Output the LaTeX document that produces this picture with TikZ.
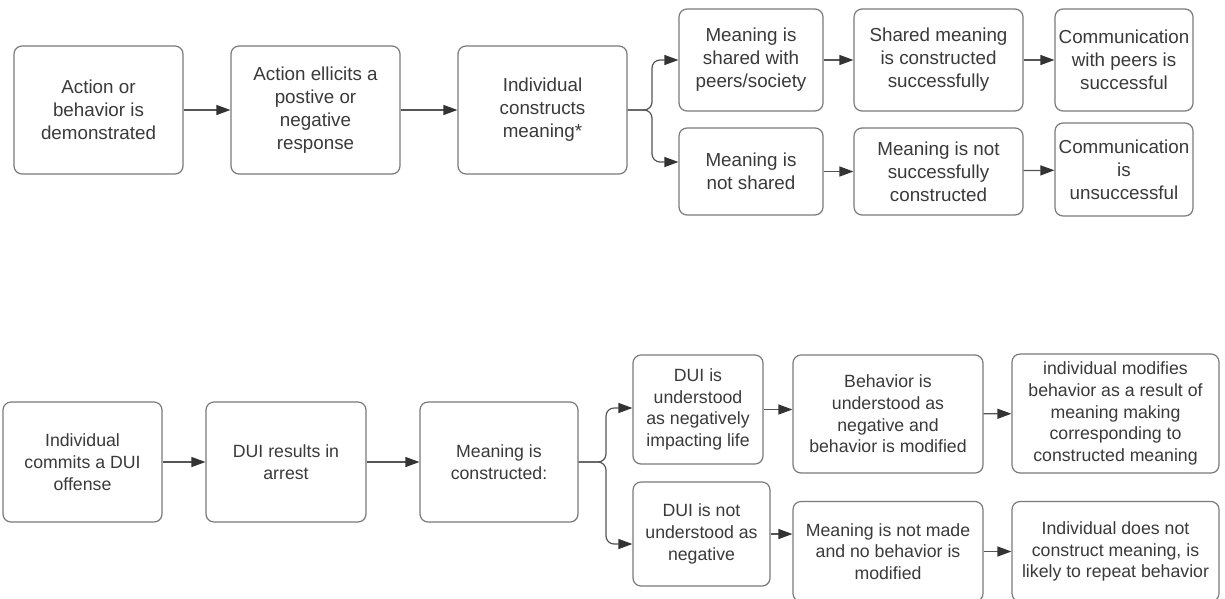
\documentclass[tikz,border=0pt]{standalone}
\usepackage{fontspec}
\setmainfont{Liberation Sans}
\usetikzlibrary{arrows.meta}
\definecolor{bordergray}{HTML}{7A7A7A}
\definecolor{textgray}{HTML}{3A3A3A}
\definecolor{linegray}{HTML}{555555}
\definecolor{tipgray}{HTML}{333333}
\begin{document}
\begin{tikzpicture}[x=1pt,y=-1pt,
  box/.style={draw=bordergray, line width=1.2pt, rounded corners=8pt, fill=white,
    align=center, text=textgray, inner sep=0pt,
    font=\fontsize{18.8}{23}\selectfont},
  boxb/.style={box, font=\fontsize{17.7}{21.7}\selectfont},
  arr/.style={draw=linegray, line width=1.2pt, -{Triangle[length=14pt,width=10pt,color=tipgray]}},
  br/.style={arr, rounded corners=8pt}]
\useasboundingbox (0,0) rectangle (1225,598);
\fill[white] (0,0) rectangle (1225,598);
% top row
\node[box, minimum width=169pt, minimum height=128pt] (A) at (98.5,110) {Action or\\behavior is\\demonstrated};
\node[box, minimum width=169pt, minimum height=128pt] (B) at (315.5,110) {Action ellicits a\\postive or\\negative\\response};
\node[box, minimum width=169pt, minimum height=128pt] (C) at (542.5,110) {Individual\\constructs\\meaning*};
\node[box, minimum width=144pt, minimum height=102pt] (D1) at (751,60) {Meaning is\\shared with\\peers/society};
\node[box, minimum width=169pt, minimum height=102pt] (E1) at (938.5,60) {Shared meaning\\is constructed\\successfully};
\node[box, minimum width=138pt, minimum height=102pt] (F1) at (1124,60) {Communication\\with peers is\\successful};
\node[box, minimum width=144pt, minimum height=87pt] (D2) at (751,171.5) {Meaning is\\not shared};
\node[box, minimum width=169pt, minimum height=87pt] (E2) at (938.5,171.5) {Meaning is not\\successfully\\constructed};
\node[box, minimum width=138pt, minimum height=93pt] (F2) at (1124,169.5) {Communication\\is\\unsuccessful};
\coordinate (brT) at (652,110);
\draw[arr] (A) -- (B);
\draw[arr] (B) -- (C);
\draw[br] (C.east) -- (brT) |- (D1.west);
\draw[br] (C.east) -- (brT) |- ([yshift=9.5pt]D2.west);
\draw[arr] (D1) -- (E1);
\draw[arr] (E1) -- (F1);
\draw[arr] (D2) -- (E2);
\draw[arr] (E2) -- (F2);
% bottom row
\node[boxb, minimum width=159pt, minimum height=120pt] (G) at (82.5,462) {Individual\\commits a DUI\\offense};
\node[boxb, minimum width=160pt, minimum height=120pt] (H) at (286,462) {DUI results in\\arrest};
\node[boxb, minimum width=158pt, minimum height=120pt] (I) at (499,462) {Meaning is\\constructed:};
\node[boxb, minimum width=130pt, minimum height=109pt] (J1) at (698,409.5) {DUI is\\understood\\as negatively\\impacting life};
\node[boxb, minimum width=190pt, minimum height=118pt] (K1) at (888,414) {Behavior is\\understood as\\negative and\\behavior is modified};
\node[boxb, minimum width=207pt, minimum height=119pt] (L1) at (1115.5,413.5) {individual modifies\\behavior as a result of\\meaning making\\corresponding to\\constructed meaning};
\node[boxb, minimum width=137pt, minimum height=104pt] (J2) at (701.5,534) {DUI is not\\understood as\\negative};
\node[boxb, minimum width=190pt, minimum height=100pt] (K2) at (888,551.5) {Meaning is not made\\and no behavior is\\modified};
\node[boxb, minimum width=207pt, minimum height=100pt] (L2) at (1115.5,551.5) {Individual does not\\construct meaning, is\\likely to repeat behavior};
\coordinate (brB) at (606,462);
\draw[arr] (G) -- (H);
\draw[arr] (H) -- (I);
\draw[br] (I.east) -- (brB) |- ([yshift=1.5pt]J1.west);
\draw[br] (I.east) -- (brB) |- ([yshift=-10pt]J2.west);
\draw[arr] (J1.east) -- (J1.east -| K1.west);
\draw[arr] (K1) -- (L1);
\draw[arr] (J2.east) -- (J2.east -| K2.west);
\draw[arr] (K2) -- (L2);
\end{tikzpicture}
\end{document}
